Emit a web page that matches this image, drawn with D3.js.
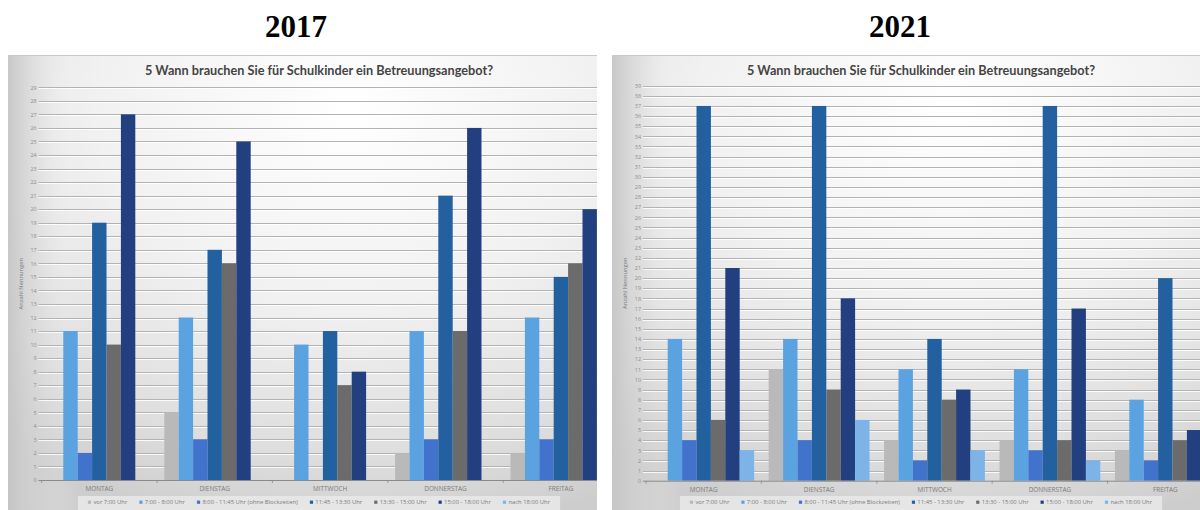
<!DOCTYPE html>
<html><head><meta charset="utf-8">
<script src="https://cdn.jsdelivr.net/npm/d3@7"></script>
<style>body{margin:0;background:#fff}svg{display:block}</style>
</head><body>
<svg id="c" width="1200" height="510"></svg>
<script>
// ---------- data ----------
const categories = ["MONTAG", "DIENSTAG", "MITTWOCH", "DONNERSTAG", "FREITAG"];
const seriesNames = ["vor 7:00 Uhr", "7:00 - 8:00 Uhr", "8:00 - 11:45 Uhr (ohne Blockzeiten)",
  "11:45 - 13:30 Uhr", "13:30 - 15:00 Uhr", "15:00 - 18:00 Uhr", "nach 18:00 Uhr"];
const seriesColors = ["#b9b9b9", "#5ba2e0", "#4273cc", "#22609f", "#6b6b6b", "#223f80", "#7db4e8"];
const years = ["2017", "2021"];
const chartTitle = "5 Wann brauchen Sie für Schulkinder ein Betreuungsangebot?";
const axisTitle = "Anzahl Nennungen";

// 2017 (values per series, across categories)
const vor7_2017  = [0, 5, 0, 2, 2];
const s0708_2017 = [11, 12, 10, 11, 12];
const s0800_2017 = [2, 3, 0, 3, 3];
const s1145_2017 = [19, 17, 11, 21, 15];
const s1330_2017 = [10, 16, 7, 11, 16];
const s1500_2017 = [27, 25, 8, 26, 20];
const nach18_2017 = [0, 0, 0, 0, 0];
const yTicks2017 = [0,1,2,3,4,5,6,7,8,9,10,11,12,13,14,15,16,17,18,19,20,21,22,23,24,25,26,27,28,29];

// 2021
const vor7_2021  = [0, 11, 4, 4, 3];
const s0708_2021 = [14, 14, 11, 11, 8];
const s0800_2021 = [4, 4, 2, 3, 2];
const s1145_2021 = [37, 37, 14, 37, 20];
const s1330_2021 = [6, 9, 8, 4, 4];
const s1500_2021 = [21, 18, 9, 17, 5];
const nach18_2021 = [3, 6, 3, 2, 1];
const yTicks2021 = [0,1,2,3,4,5,6,7,8,9,10,11,12,13,14,15,16,17,18,19,20,21,22,23,24,25,26,27,28,29,30,31,32,33,34,35,36,37,38,39];

const data2017 = [vor7_2017, s0708_2017, s0800_2017, s1145_2017, s1330_2017, s1500_2017, nach18_2017];
const data2021 = [vor7_2021, s0708_2021, s0800_2021, s1145_2021, s1330_2021, s1500_2021, nach18_2021];

// ---------- drawing ----------
const svg = d3.select("#c");
const defs = svg.append("defs");

function panel(o) {
  const id = o.id;
  const rg = defs.append("radialGradient").attr("id", "bg" + id)
    .attr("cx", 0.58).attr("cy", 0.12).attr("r", 0.95).attr("fx", 0.58).attr("fy", 0.12);
  rg.append("stop").attr("offset", 0).attr("stop-color", "#ffffff");
  rg.append("stop").attr("offset", 0.45).attr("stop-color", "#f1f1f1");
  rg.append("stop").attr("offset", 0.8).attr("stop-color", "#dedede");
  rg.append("stop").attr("offset", 1).attr("stop-color", "#cdcdcd");
  const lg = defs.append("linearGradient").attr("id", "lg" + id).attr("x1", 0).attr("x2", 1).attr("y1", 0).attr("y2", 0);
  lg.append("stop").attr("offset", 0).attr("stop-color", "#c4c4c4").attr("stop-opacity", 0.9);
  lg.append("stop").attr("offset", 0.06).attr("stop-color", "#d8d8d8").attr("stop-opacity", 0.35);
  lg.append("stop").attr("offset", 0.12).attr("stop-color", "#ffffff").attr("stop-opacity", 0);
  defs.append("clipPath").attr("id", "clip" + id).append("rect")
    .attr("x", o.px0).attr("y", o.py0).attr("width", o.px1 - o.px0).attr("height", 510 - o.py0);

  svg.append("text").attr("x", o.yearX).attr("y", 37).attr("text-anchor", "middle")
    .attr("font-family", "Liberation Serif, Times New Roman, serif").attr("font-weight", "bold")
    .attr("font-size", 31).attr("fill", "#000").text(o.year);

  const g = svg.append("g").attr("clip-path", `url(#clip${id})`);
  g.append("rect").attr("x", o.px0).attr("y", o.py0).attr("width", o.px1 - o.px0).attr("height", 510 - o.py0)
    .attr("fill", `url(#bg${id})`);
  g.append("rect").attr("x", o.px0).attr("y", o.py0).attr("width", o.px1 - o.px0).attr("height", 510 - o.py0)
    .attr("fill", `url(#lg${id})`);
  g.append("line").attr("x1", o.px0).attr("x2", o.px1).attr("y1", o.py0 + 0.5).attr("y2", o.py0 + 0.5)
    .attr("stroke", "#c9c9c9").attr("stroke-width", 1);

  g.append("text").attr("x", o.centerX).attr("y", 75).attr("text-anchor", "middle")
    .attr("font-family", "Lato, Open Sans, sans-serif").attr("font-weight", "bold").attr("font-size", 12.5)
    .attr("fill", "#444").attr("textLength", 348).attr("lengthAdjust", "spacingAndGlyphs").text(chartTitle);

  const x0 = d3.scaleBand().domain(categories)
    .range([o.plotLeft, o.plotLeft + categories.length * o.step])
    .paddingInner(0.1265).paddingOuter(0.1265 / 2);
  const x1 = d3.scaleBand().domain(seriesNames).range([0, x0.bandwidth()]);
  const y = d3.scaleLinear().domain([0, o.yMax]).range([o.yBase, o.yTop]);
  const plotRight = o.plotLeft + categories.length * o.step;

  const grid = g.append("g");
  grid.selectAll("line.dk").data(o.yTicks.filter(t => t > 0)).join("line").attr("class", "dk")
    .attr("x1", o.plotLeft - 3).attr("x2", plotRight)
    .attr("y1", d => Math.round(y(d)) + 0.5).attr("y2", d => Math.round(y(d)) + 0.5)
    .attr("stroke", "#b3b3b3").attr("stroke-width", 1);
  grid.selectAll("line.lt").data(o.yTicks.filter(t => t > 0)).join("line").attr("class", "lt")
    .attr("x1", o.plotLeft - 3).attr("x2", plotRight)
    .attr("y1", d => Math.round(y(d)) + 1.5).attr("y2", d => Math.round(y(d)) + 1.5)
    .attr("stroke", "#ffffff").attr("stroke-opacity", 0.85).attr("stroke-width", 1);

  const ya = g.append("g").attr("transform", `translate(${o.plotLeft - 5},0)`)
    .call(d3.axisLeft(y).tickValues(o.yTicks).tickSize(0).tickPadding(0).tickFormat(d3.format("d")));
  ya.select(".domain").remove();
  ya.selectAll("text").attr("font-family", "Open Sans, sans-serif").attr("font-size", 5.4).attr("fill", "#8c8c8c");

  g.append("text").attr("transform", `translate(${o.px0 + 15},${(o.yBase + o.yTop) / 2}) rotate(-90)`)
    .attr("text-anchor", "middle").attr("font-family", "Open Sans, sans-serif").attr("font-size", 5.8)
    .attr("fill", "#7a7a7a").text(axisTitle);

  const bars = g.append("g").selectAll("g").data(categories).join("g")
    .attr("transform", d => `translate(${x0(d)},0)`);
  bars.selectAll("rect").data((c, ci) => seriesNames.map((s, si) => ({ s, si, v: o.data[si][ci] })))
    .join("rect")
    .attr("x", d => x1(d.s)).attr("width", x1.bandwidth())
    .attr("y", d => y(d.v)).attr("height", d => y(0) - y(d.v))
    .attr("fill", d => seriesColors[d.si]);

  g.append("line").attr("x1", o.plotLeft - 3).attr("x2", plotRight)
    .attr("y1", o.yBase + 0.5).attr("y2", o.yBase + 0.5).attr("stroke", "#8a8a8a").attr("stroke-width", 1);
  const bounds = categories.map(c => x0(c) - x0.step() * 0.1265 / 2).concat([plotRight]);
  g.selectAll("line.tk").data(bounds).join("line").attr("class", "tk")
    .attr("x1", d => d).attr("x2", d => d).attr("y1", o.yBase).attr("y2", o.yBase + 3)
    .attr("stroke", "#8a8a8a").attr("stroke-width", 0.8);
  g.selectAll("text.cat").data(categories).join("text").attr("class", "cat")
    .attr("x", d => x0(d) + x0.bandwidth() / 2).attr("y", o.yBase + 11).attr("text-anchor", "middle")
    .attr("font-family", "Open Sans, sans-serif").attr("font-size", 6.4).attr("fill", "#7a7a7a").text(d => d);

  const lgG = g.append("g");
  const lbox = lgG.append("rect").attr("fill", "#e9e9e9").attr("opacity", 0.85);
  let cx = 0;
  const items = [];
  const gap = 12;
  seriesNames.forEach((s, i) => {
    const it = lgG.append("g");
    it.append("rect").attr("x", 0).attr("y", -3.4).attr("width", 3.2).attr("height", 3.2).attr("fill", seriesColors[i]);
    const t = it.append("text").attr("x", 5.5).attr("y", 0).attr("font-family", "Open Sans, sans-serif")
      .attr("font-size", 5.9).attr("fill", "#7a7a7a").text(s);
    const w = t.node().getComputedTextLength();
    items.push({ it, x: cx });
    cx += 5.5 + w + gap;
  });
  const totalW = cx - gap;
  const lx = o.centerX - totalW / 2;
  items.forEach(d => d.it.attr("transform", `translate(${lx + d.x},${o.legendY})`));
  lbox.attr("x", lx - 10).attr("y", o.legendY - 8).attr("width", totalW + 20).attr("height", 16);
}

panel({ id: "a", px0: 8, px1: 597, py0: 55, year: years[0], yearX: 296, centerX: 319,
  plotLeft: 41.6, step: 115.4, yBase: 480, yTop: 87.3, yMax: 29, yTicks: yTicks2017,
  data: data2017, legendY: 504 });
panel({ id: "b", px0: 612, px1: 1200, py0: 55, year: years[1], yearX: 900, centerX: 921,
  plotLeft: 646, step: 115.4, yBase: 480.7, yTop: 85.7, yMax: 39, yTicks: yTicks2021,
  data: data2021, legendY: 504 });
</script>
</body></html>
